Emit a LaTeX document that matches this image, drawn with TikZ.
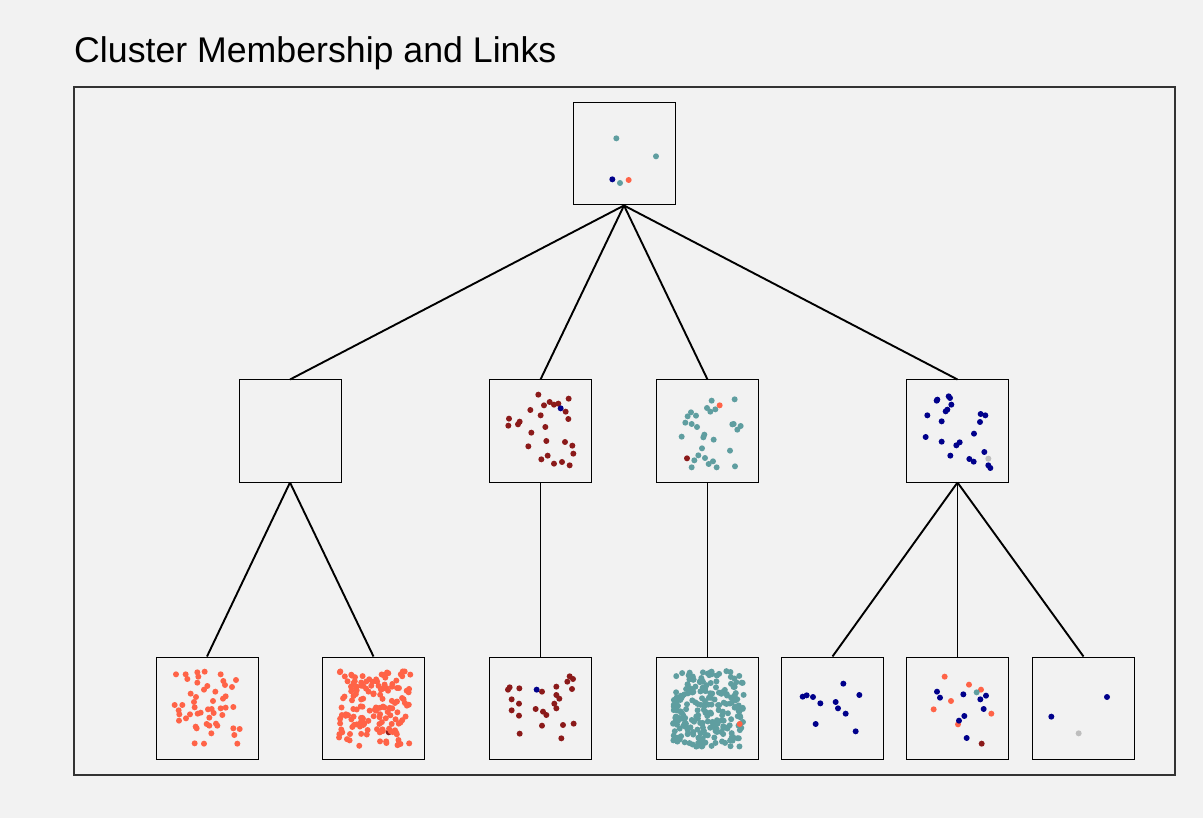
\documentclass[tikz,border=0pt]{standalone}
\usepackage{fontspec}
\setmainfont{Liberation Sans}
\definecolor{bgc}{HTML}{F2F2F2}
\definecolor{framec}{HTML}{333333}
\definecolor{ctomato}{HTML}{FF6347}
\definecolor{cdred}{HTML}{8B1A1A}
\definecolor{cteal}{HTML}{5F9EA0}
\definecolor{cnavy}{HTML}{00008B}
\definecolor{cgrey}{HTML}{BEBEBE}
% scatter of dots inside a box; coordinates given at 1/3 pixel scale
\newcommand{\clusterpts}[3]{%
  \begin{scope}[shift={#1}, x=0.33333pt, y=-0.33333pt]
    \foreach \a/\b in {#3} \fill[#2] (\a,\b) circle[radius=3pt];
  \end{scope}}
\begin{document}
\begin{tikzpicture}[x=1pt, y=-1pt,
  clbox/.style={draw=black, line width=1pt, minimum width=102pt, minimum height=102pt, inner sep=0pt},
  link/.style={draw=black, line width=1.9pt}]
\useasboundingbox[fill=bgc] (0,0) rectangle (1203,818);
\node[anchor=base west, inner sep=0pt, font=\fontsize{35.7}{40}\selectfont] (title) at (74,63) {Cluster Membership and Links};
\draw[framec, line width=1.1pt] (74,87) rectangle (1175,775);

% boxes
\node[clbox] (r) at (624,154) {};
\node[clbox] (a) at (290,431) {};
\node[clbox] (b) at (540.5,431) {};
\node[clbox] (c) at (707.5,431) {};
\node[clbox] (d) at (957.5,431) {};
\node[clbox] (a1) at (207,708) {};
\node[clbox] (a2) at (373.5,708) {};
\node[clbox] (b1) at (540.5,708) {};
\node[clbox] (c1) at (707.5,708) {};
\node[clbox] (d1) at (832.5,708) {};
\node[clbox] (d2) at (957.5,708) {};
\node[clbox] (d3) at (1083.5,708) {};

% links
\foreach \p/\q in {r/a, r/b, r/c, r/d, a/a1, a/a2, b/b1, c/c1, d/d1, d/d2, d/d3}
  \draw[link] (\p.south) -- (\q.north);

% root
\clusterpts{(570,100)}{cteal}{139/115, 258/169, 150/249}
\clusterpts{(570,100)}{cnavy}{127/238}
\clusterpts{(570,100)}{ctomato}{176/240}

% second level
\clusterpts{(488,378)}{cdred}{151/50, 185/72, 168/82, 198/80, 211/77, 242/62, 233/101, 127/96, 158/112, 241/123, 63/122, 61/143, 95/131, 90/139, 172/147, 130/164, 175/189, 121/205, 231/192, 253/203, 256/227, 179/233, 160/244, 198/257, 222/252, 245/262}
\clusterpts{(488,378)}{cnavy}{218/91}

\clusterpts{(655,378)}{cteal}{170/68, 239/64, 156/90, 166/101, 181/94, 108/103, 98/115, 123/113, 91/134, 110/138, 126/147, 232/139, 236/138, 257/144, 247/155, 148/170, 145/178, 176/185, 80/176, 141/211, 225/218, 130/232, 150/240, 118/247, 161/258, 174/250, 185/268, 110/268, 240/265}
\clusterpts{(655,378)}{ctomato}{194/82}
\clusterpts{(655,378)}{cdred}{96/241}

\clusterpts{(905,378)}{cnavy}{131/55, 135/60, 97/65, 95/68, 139/80, 127/95, 122/100, 67/112, 110/130, 227/108, 241/112, 225/132, 207/167, 62/177, 110/191, 164/193, 154/202, 136/233, 238/222, 193/243, 206/251, 250/262, 256/270}
\clusterpts{(905,378)}{cgrey}{250/242}

% third level
\clusterpts{(154,655)}{ctomato}{66/58, 95/58, 130/52, 152/50, 100/72, 133/65, 200/58, 208/78, 246/75, 130/83, 213/90, 234/96, 160/93, 150/104, 184/110, 110/116, 126/126, 215/124, 207/131, 177/138, 120/141, 62/150, 85/150, 74/166, 122/157, 162/163, 173/162, 200/160, 215/158, 238/156, 76/178, 96/190, 108/178, 131/176, 140/173, 179/174, 205/180, 166/188, 75/197, 158/207, 186/206, 190/212, 125/215, 128/220, 166/212, 238/220, 257/222, 172/235, 241/240, 122/265, 150/266, 250/266}

\fill[cdred] (388.7,732.3) circle[radius=3pt];
\pgfmathsetseed{11}
\begin{scope}[shift={(322,657)}]
  \foreach \i in {1,...,150}{
    \pgfmathsetmacro\rx{17+72*rnd}
    \pgfmathsetmacro\ry{14+76*rnd}
    \fill[ctomato] (\rx,\ry) circle[radius=3pt];
  }
\end{scope}

\clusterpts{(488,655)}{cdred}{65/97, 60/104, 94/100, 162/110, 205/95, 245/64, 255/72, 238/80, 252/102, 71/133, 93/146, 205/120, 214/131, 199/146, 205/160, 71/166, 93/182, 143/162, 165/170, 175/180, 162/212, 225/210, 257/206, 95/236, 220/250}
\clusterpts{(488,655)}{cnavy}{146/104}

\pgfmathsetseed{23}
\begin{scope}[shift={(656,657)}]
  \foreach \i in {1,...,230}{
    \pgfmathsetmacro\rx{17+71*rnd}
    \pgfmathsetmacro\ry{14+76*rnd}
    \fill[cteal] (\rx,\ry) circle[radius=3pt];
  }
\end{scope}
\fill[ctomato] (739.7,724) circle[radius=3pt];

\clusterpts{(780,655)}{cnavy}{190/86, 68/125, 80/121, 99/126, 121/145, 167/141, 174/160, 238/120, 197/176, 107/207, 227/229}

\clusterpts{(905,655)}{ctomato}{119/65, 192/89, 228/104, 138/138, 86/163, 259/176, 159/208}
\clusterpts{(905,655)}{cnavy}{96/110, 105/128, 175/118, 226/133, 243/122, 236/162, 178/183, 162/197, 185/249}
\clusterpts{(905,655)}{cteal}{215/112}
\clusterpts{(905,655)}{cdred}{230/266}

\clusterpts{(1030,655)}{cnavy}{231/126, 64/185}
\clusterpts{(1030,655)}{cgrey}{146/235}
\end{tikzpicture}
\end{document}
